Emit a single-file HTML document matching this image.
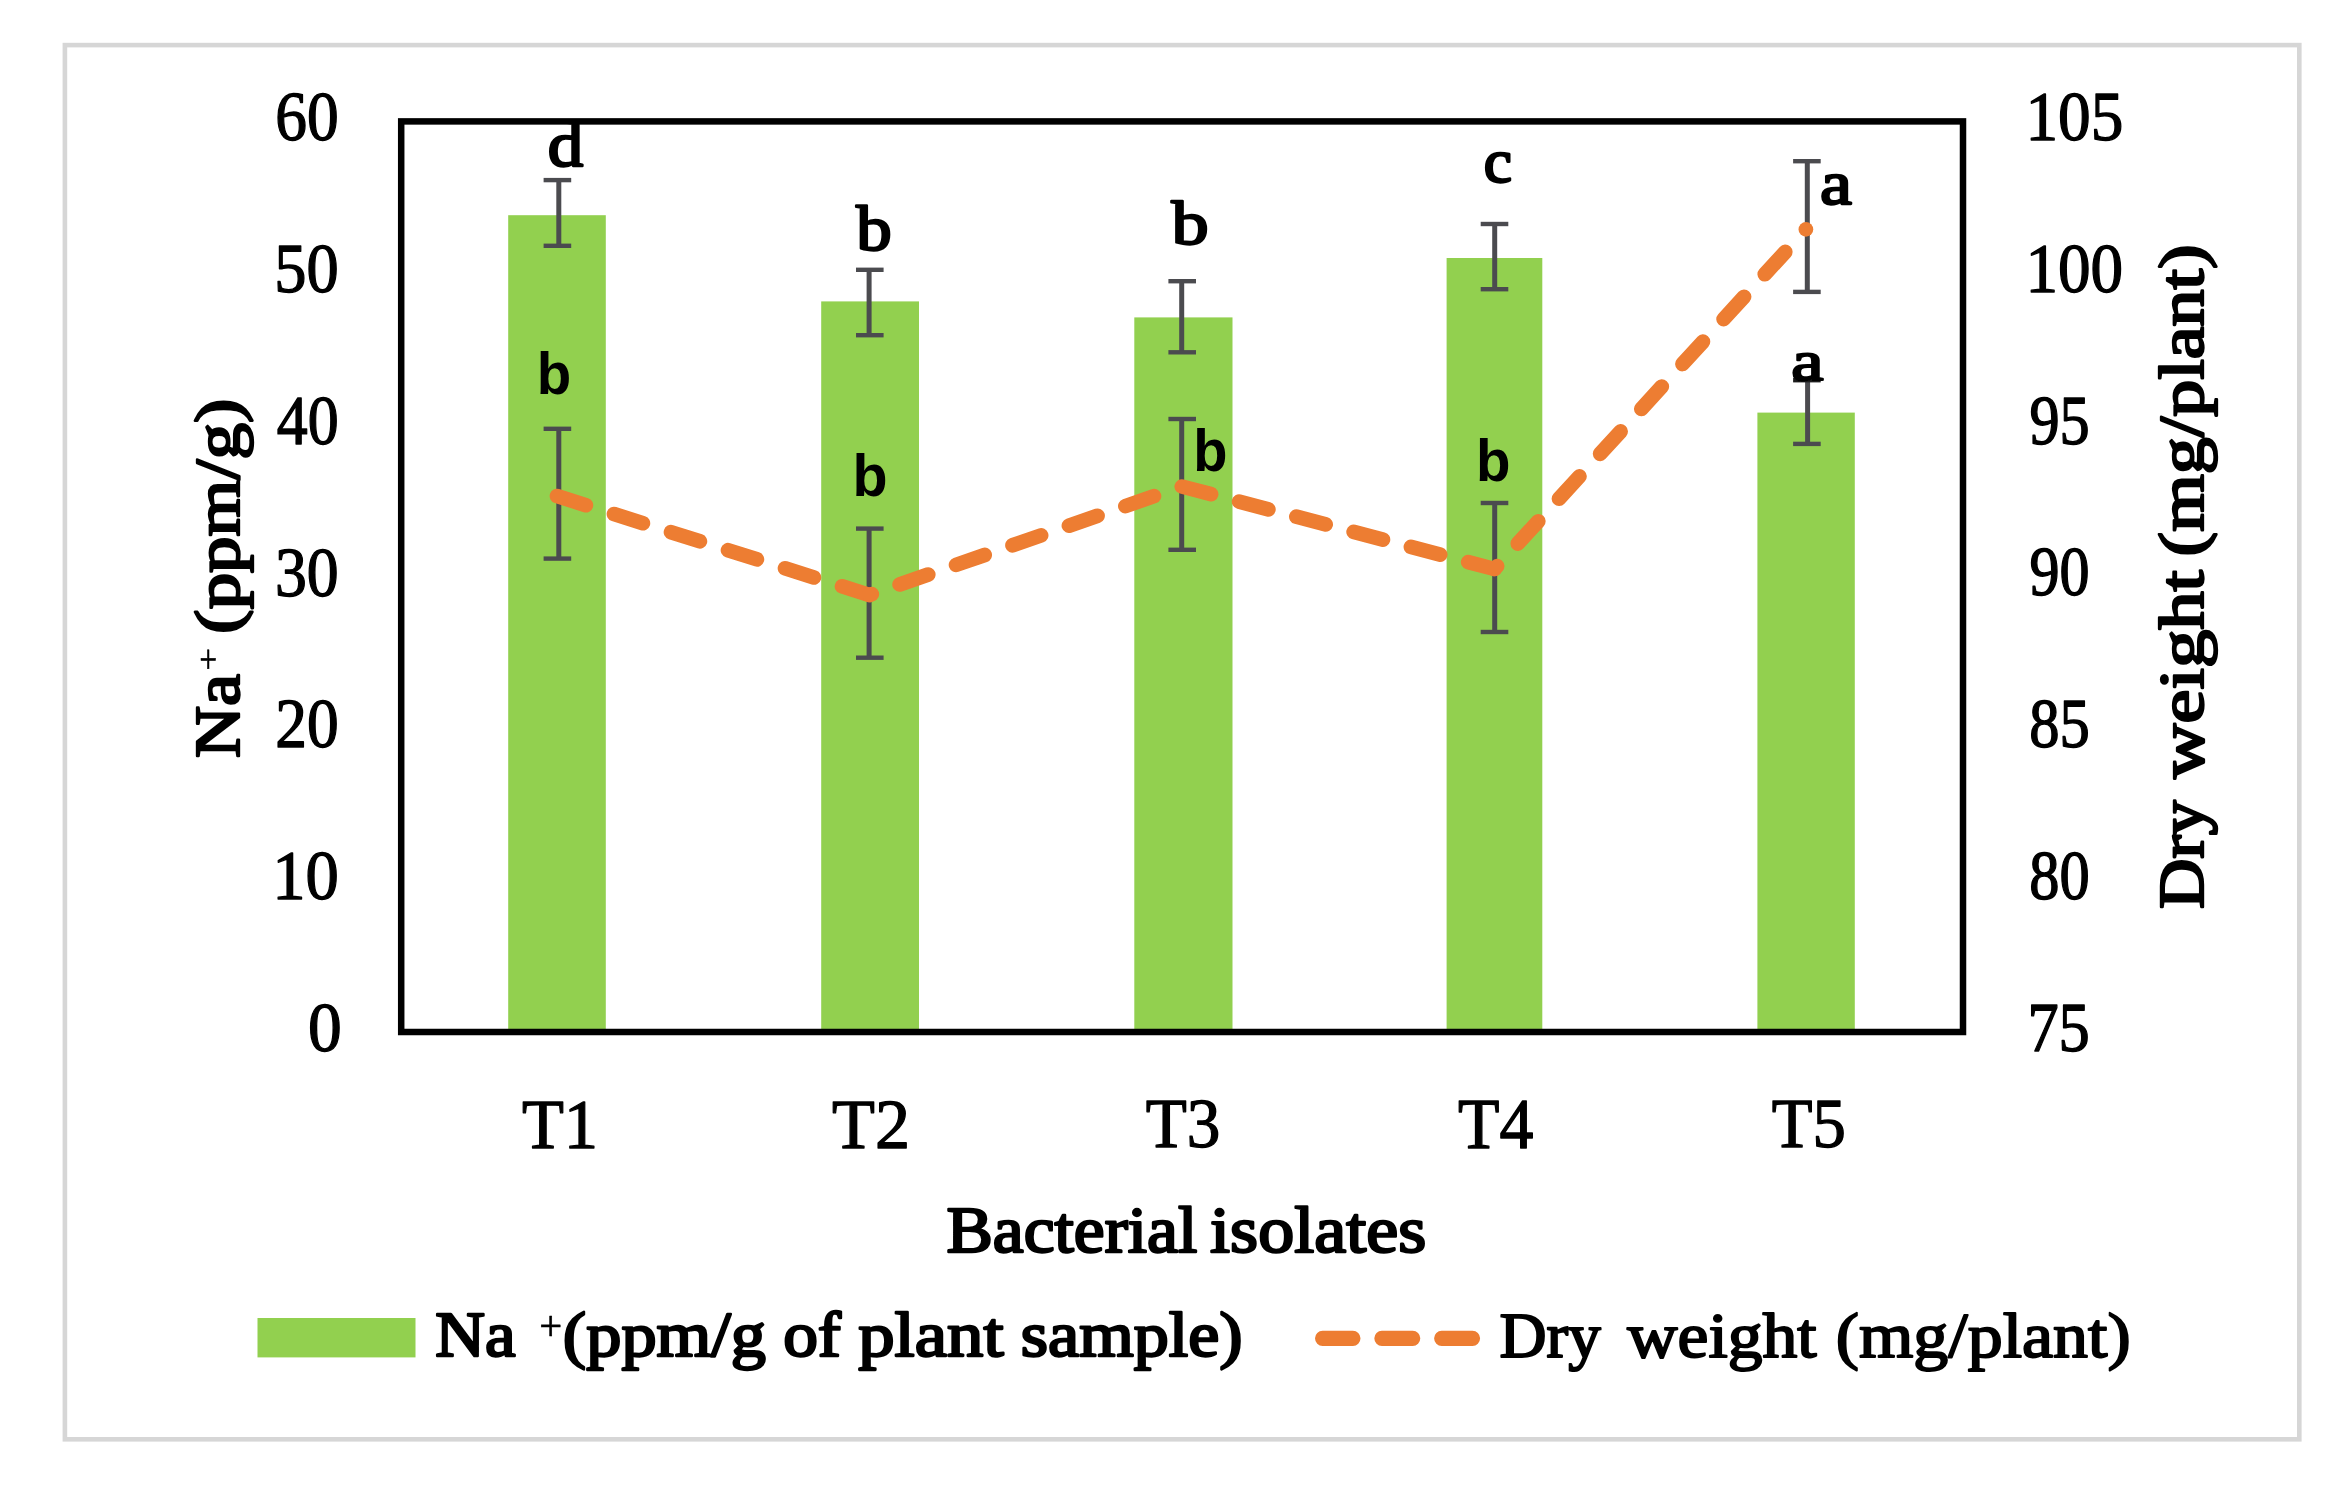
<!DOCTYPE html>
<html lang="en"><head><meta charset="utf-8"><title>Na+ and dry weight chart</title>
<style>html,body{margin:0;padding:0;background:#fff}svg{display:block}text{white-space:pre}</style>
</head><body>
<svg width="2348" height="1492" viewBox="0 0 2348 1492" role="img" aria-label="Bar and line chart of sodium content and dry weight for bacterial isolates T1 to T5">
<defs><filter id="soft" x="-2%" y="-2%" width="104%" height="104%"><feGaussianBlur stdDeviation="0.55"/></filter></defs>
<g filter="url(#soft)">
<rect x="0" y="0" width="2348" height="1492" fill="#fff"/>
<rect x="64.9" y="45.1" width="2234.4" height="1394.2" fill="none" stroke="#d6d6d6" stroke-width="4.6"/>
<rect x="508.2" y="215.2" width="97.6" height="816.8" fill="#92d050"/>
<rect x="821.2" y="301.4" width="97.8" height="730.6" fill="#92d050"/>
<rect x="1134.3" y="317.4" width="98.2" height="714.6" fill="#92d050"/>
<rect x="1446.6" y="258.0" width="95.7" height="774.0" fill="#92d050"/>
<rect x="1757.4" y="412.6" width="97.4" height="619.4" fill="#92d050"/>
<rect x="401.2" y="121.4" width="1561.8" height="910.6" fill="none" stroke="#000" stroke-width="6.5"/>
<path d="M558.8,180.1V245.8" stroke="#4c4b50" stroke-width="5.0" fill="none"/>
<path d="M543.6,180.1H571.2" stroke="#4c4b50" stroke-width="4.4" fill="none"/>
<path d="M543.6,245.8H571.2" stroke="#4c4b50" stroke-width="4.4" fill="none"/>
<path d="M869.1,269.8V335.2" stroke="#4c4b50" stroke-width="5.0" fill="none"/>
<path d="M856.0,269.8H883.6" stroke="#4c4b50" stroke-width="4.4" fill="none"/>
<path d="M856.0,335.2H883.6" stroke="#4c4b50" stroke-width="4.4" fill="none"/>
<path d="M1181.7,281.2V352.3" stroke="#4c4b50" stroke-width="5.0" fill="none"/>
<path d="M1168.4,281.2H1196.0" stroke="#4c4b50" stroke-width="4.4" fill="none"/>
<path d="M1168.4,352.3H1196.0" stroke="#4c4b50" stroke-width="4.4" fill="none"/>
<path d="M1494.7,224.0V289.2" stroke="#4c4b50" stroke-width="5.0" fill="none"/>
<path d="M1480.7,224.0H1508.3" stroke="#4c4b50" stroke-width="4.4" fill="none"/>
<path d="M1480.7,289.2H1508.3" stroke="#4c4b50" stroke-width="4.4" fill="none"/>
<path d="M1807.6,380.2V443.9" stroke="#4c4b50" stroke-width="5.0" fill="none"/>
<path d="M1793.1,380.2H1820.7" stroke="#1a1a1a" stroke-width="4.4" fill="none"/>
<path d="M1793.1,443.9H1820.7" stroke="#4c4b50" stroke-width="4.4" fill="none"/>
<path d="M558.8,428.8V558.6" stroke="#4c4b50" stroke-width="5.0" fill="none"/>
<path d="M543.6,428.8H571.2" stroke="#4c4b50" stroke-width="4.4" fill="none"/>
<path d="M543.6,558.6H571.2" stroke="#4c4b50" stroke-width="4.4" fill="none"/>
<path d="M869.1,528.6V657.7" stroke="#4c4b50" stroke-width="5.0" fill="none"/>
<path d="M856.0,528.6H883.6" stroke="#4c4b50" stroke-width="4.4" fill="none"/>
<path d="M856.0,657.7H883.6" stroke="#4c4b50" stroke-width="4.4" fill="none"/>
<path d="M1181.7,419.0V549.8" stroke="#4c4b50" stroke-width="5.0" fill="none"/>
<path d="M1168.4,419.0H1196.0" stroke="#4c4b50" stroke-width="4.4" fill="none"/>
<path d="M1168.4,549.8H1196.0" stroke="#4c4b50" stroke-width="4.4" fill="none"/>
<path d="M1494.7,503.0V632.0" stroke="#4c4b50" stroke-width="5.0" fill="none"/>
<path d="M1480.7,503.0H1508.3" stroke="#4c4b50" stroke-width="4.4" fill="none"/>
<path d="M1480.7,632.0H1508.3" stroke="#4c4b50" stroke-width="4.4" fill="none"/>
<path d="M1807.3,161.2V291.9" stroke="#4c4b50" stroke-width="5.0" fill="none"/>
<path d="M1793.1,161.2H1820.7" stroke="#4c4b50" stroke-width="4.4" fill="none"/>
<path d="M1793.1,291.9H1820.7" stroke="#4c4b50" stroke-width="4.4" fill="none"/>
<path d="M557.0,496.0L869.3,595.0" fill="none" stroke="#ed7d31" stroke-width="14.7" stroke-linecap="round" stroke-dasharray="30.3 29.50" stroke-dashoffset="-0.00"/>
<path d="M869.3,595.0L1181.8,486.5" fill="none" stroke="#ed7d31" stroke-width="14.7" stroke-linecap="round" stroke-dasharray="30.3 29.44" stroke-dashoffset="-32.10"/>
<path d="M1181.8,486.5L1494.5,569.0" fill="none" stroke="#ed7d31" stroke-width="14.7" stroke-linecap="round" stroke-dasharray="30.3 28.94" stroke-dashoffset="-0.00"/>
<path d="M1494.5,569.0L1805.9,229.4" fill="none" stroke="#ed7d31" stroke-width="14.7" stroke-linecap="round" stroke-dasharray="30.3 30.60" stroke-dashoffset="-34.50"/>
<circle cx="1805.9" cy="229.4" r="7.35" fill="#ed7d31"/>
<text transform="translate(275.36,140.35) scale(0.6337,0.6978)" font-family='"Liberation Serif", serif' font-weight="normal" font-size="100.00" fill="#000" stroke="#000" stroke-width="1.95" stroke-linejoin="round">60</text>
<text transform="translate(274.35,292.13) scale(0.6442,0.6978)" font-family='"Liberation Serif", serif' font-weight="normal" font-size="100.00" fill="#000" stroke="#000" stroke-width="1.94" stroke-linejoin="round">50</text>
<text transform="translate(276.81,443.91) scale(0.6186,0.6978)" font-family='"Liberation Serif", serif' font-weight="normal" font-size="100.00" fill="#000" stroke="#000" stroke-width="1.98" stroke-linejoin="round">40</text>
<text transform="translate(275.02,595.69) scale(0.6372,0.6978)" font-family='"Liberation Serif", serif' font-weight="normal" font-size="100.00" fill="#000" stroke="#000" stroke-width="1.95" stroke-linejoin="round">30</text>
<text transform="translate(275.36,747.47) scale(0.6337,0.6978)" font-family='"Liberation Serif", serif' font-weight="normal" font-size="100.00" fill="#000" stroke="#000" stroke-width="1.95" stroke-linejoin="round">20</text>
<text transform="translate(272.22,899.25) scale(0.6663,0.6978)" font-family='"Liberation Serif", serif' font-weight="normal" font-size="100.00" fill="#000" stroke="#000" stroke-width="1.91" stroke-linejoin="round">10</text>
<text transform="translate(308.12,1051.03) scale(0.6753,0.6978)" font-family='"Liberation Serif", serif' font-weight="normal" font-size="100.00" fill="#000" stroke="#000" stroke-width="1.89" stroke-linejoin="round">0</text>
<text transform="translate(2025.44,140.06) scale(0.6528,0.6919)" font-family='"Liberation Serif", serif' font-weight="normal" font-size="100.00" fill="#000" stroke="#000" stroke-width="1.93" stroke-linejoin="round">105</text>
<text transform="translate(2025.45,291.84) scale(0.6516,0.6919)" font-family='"Liberation Serif", serif' font-weight="normal" font-size="100.00" fill="#000" stroke="#000" stroke-width="1.94" stroke-linejoin="round">100</text>
<text transform="translate(2029.49,443.62) scale(0.6027,0.6944)" font-family='"Liberation Serif", serif' font-weight="normal" font-size="100.00" fill="#000" stroke="#000" stroke-width="2.01" stroke-linejoin="round">95</text>
<text transform="translate(2029.50,595.40) scale(0.6011,0.6919)" font-family='"Liberation Serif", serif' font-weight="normal" font-size="100.00" fill="#000" stroke="#000" stroke-width="2.02" stroke-linejoin="round">90</text>
<text transform="translate(2029.18,747.18) scale(0.6060,0.6919)" font-family='"Liberation Serif", serif' font-weight="normal" font-size="100.00" fill="#000" stroke="#000" stroke-width="2.01" stroke-linejoin="round">85</text>
<text transform="translate(2029.18,898.96) scale(0.6043,0.6919)" font-family='"Liberation Serif", serif' font-weight="normal" font-size="100.00" fill="#000" stroke="#000" stroke-width="2.01" stroke-linejoin="round">80</text>
<text transform="translate(2027.39,1050.73) scale(0.6246,0.7023)" font-family='"Liberation Serif", serif' font-weight="normal" font-size="100.00" fill="#000" stroke="#000" stroke-width="1.96" stroke-linejoin="round">75</text>
<text transform="translate(521.95,1147.55) scale(0.6857,0.7076)" font-family='"Liberation Serif", serif' font-weight="normal" font-size="100.00" fill="#000" stroke="#000" stroke-width="1.87" stroke-linejoin="round">T1</text>
<text transform="translate(832.02,1147.55) scale(0.7017,0.7049)" font-family='"Liberation Serif", serif' font-weight="normal" font-size="100.00" fill="#000" stroke="#000" stroke-width="1.85" stroke-linejoin="round">T2</text>
<text transform="translate(1145.67,1146.86) scale(0.6717,0.6944)" font-family='"Liberation Serif", serif' font-weight="normal" font-size="100.00" fill="#000" stroke="#000" stroke-width="1.90" stroke-linejoin="round">T3</text>
<text transform="translate(1458.06,1147.55) scale(0.6784,0.7103)" font-family='"Liberation Serif", serif' font-weight="normal" font-size="100.00" fill="#000" stroke="#000" stroke-width="1.87" stroke-linejoin="round">T4</text>
<text transform="translate(1771.68,1146.85) scale(0.6670,0.7023)" font-family='"Liberation Serif", serif' font-weight="normal" font-size="100.00" fill="#000" stroke="#000" stroke-width="1.90" stroke-linejoin="round">T5</text>
<text transform="translate(946.44,1251.90) scale(0.6952,0.6525)" font-family='"Liberation Serif", serif' font-weight="normal" font-size="100.00" fill="#000" stroke="#000" stroke-width="3.71" stroke-linejoin="round">Bacterial</text>
<text transform="translate(1210.11,1251.90) scale(0.7205,0.6525)" font-family='"Liberation Serif", serif' font-weight="normal" font-size="100.00" fill="#000" stroke="#000" stroke-width="3.65" stroke-linejoin="round">isolates</text>
<text transform="translate(239.15,757.93) rotate(-90) scale(1.1359,1)" font-family='"Liberation Serif", serif' font-weight="normal" font-size="63.38" fill="#000" stroke="#000" stroke-width="2.35" stroke-linejoin="round">Na</text>
<text transform="translate(218.88,670.83) rotate(-90) scale(0.4065,0.3183)" font-family='"Liberation Serif", serif' font-weight="normal" font-size="100.00" fill="#000" stroke="#000" stroke-width="1.67" stroke-linejoin="round">+</text>
<text transform="translate(239.15,633.65) rotate(-90) scale(1.1509,1)" font-family='"Liberation Serif", serif' font-weight="normal" font-size="63.38" fill="#000" stroke="#000" stroke-width="2.33" stroke-linejoin="round">(ppm/g)</text>
<text transform="translate(2202.75,909.07) rotate(-90) scale(1.1039,1)" font-family='"Liberation Serif", serif' font-weight="normal" font-size="63.38" fill="#000" stroke="#000" stroke-width="2.38" stroke-linejoin="round">Dry</text>
<text transform="translate(2202.75,778.75) rotate(-90) scale(1.2093,1)" font-family='"Liberation Serif", serif' font-weight="normal" font-size="63.38" fill="#000" stroke="#000" stroke-width="2.27" stroke-linejoin="round">weight</text>
<text transform="translate(2202.75,556.39) rotate(-90) scale(1.1664,1)" font-family='"Liberation Serif", serif' font-weight="normal" font-size="63.38" fill="#000" stroke="#000" stroke-width="2.31" stroke-linejoin="round">(mg/plant)</text>
<text transform="translate(547.87,166.42) scale(0.7094,0.6298)" font-family='"Liberation Serif", serif' font-weight="normal" font-size="100.00" fill="#000" stroke="#000" stroke-width="3.74" stroke-linejoin="round">d</text>
<text transform="translate(856.15,250.32) scale(0.7092,0.6255)" font-family='"Liberation Serif", serif' font-weight="normal" font-size="100.00" fill="#000" stroke="#000" stroke-width="3.75" stroke-linejoin="round">b</text>
<text transform="translate(1171.45,244.13) scale(0.7438,0.6227)" font-family='"Liberation Serif", serif' font-weight="normal" font-size="100.00" fill="#000" stroke="#000" stroke-width="3.67" stroke-linejoin="round">b</text>
<text transform="translate(1483.87,181.94) scale(0.6347,0.6104)" font-family='"Liberation Serif", serif' font-weight="normal" font-size="100.00" fill="#000" stroke="#000" stroke-width="4.02" stroke-linejoin="round">c</text>
<text transform="translate(1791.31,379.97) scale(0.7266,0.5771)" font-family='"Liberation Serif", serif' font-weight="normal" font-size="100.00" fill="#000" stroke="#000" stroke-width="3.86" stroke-linejoin="round">a</text>
<text transform="translate(1820.03,204.23) scale(0.7190,0.6187)" font-family='"Liberation Serif", serif' font-weight="normal" font-size="100.00" fill="#000" stroke="#000" stroke-width="3.75" stroke-linejoin="round">a</text>
<text transform="translate(536.83,393.71) scale(0.5644,0.5946)" font-family='"Liberation Sans", sans-serif' font-weight="bold" font-size="100.00" fill="#000">b</text>
<text transform="translate(852.57,496.00) scale(0.5743,0.5959)" font-family='"Liberation Sans", sans-serif' font-weight="bold" font-size="100.00" fill="#000">b</text>
<text transform="translate(1193.36,471.11) scale(0.5604,0.5946)" font-family='"Liberation Sans", sans-serif' font-weight="bold" font-size="100.00" fill="#000">b</text>
<text transform="translate(1476.03,480.60) scale(0.5644,0.5973)" font-family='"Liberation Sans", sans-serif' font-weight="bold" font-size="100.00" fill="#000">b</text>
<rect x="257.5" y="1318" width="158" height="39.4" fill="#92d050"/>
<text transform="translate(435.36,1356.25) scale(1.0869,1)" font-family='"Liberation Serif", serif' font-weight="normal" font-size="63.38" fill="#000" stroke="#000" stroke-width="2.40" stroke-linejoin="round">Na</text>
<text transform="translate(539.27,1339.92) scale(0.4065,0.4323)" font-family='"Liberation Serif", serif' font-weight="normal" font-size="100.00" fill="#000" stroke="#000" stroke-width="1.43" stroke-linejoin="round">+</text>
<text transform="translate(562.86,1356.25) scale(1.1093,1)" font-family='"Liberation Serif", serif' font-weight="normal" font-size="63.38" fill="#000" stroke="#000" stroke-width="2.37" stroke-linejoin="round">(ppm/g</text>
<text transform="translate(783.15,1356.25) scale(1.0955,1)" font-family='"Liberation Serif", serif' font-weight="normal" font-size="63.38" fill="#000" stroke="#000" stroke-width="2.39" stroke-linejoin="round">of</text>
<text transform="translate(858.16,1356.25) scale(1.1482,1)" font-family='"Liberation Serif", serif' font-weight="normal" font-size="63.38" fill="#000" stroke="#000" stroke-width="2.33" stroke-linejoin="round">plant</text>
<text transform="translate(1020.75,1356.25) scale(1.1061,1)" font-family='"Liberation Serif", serif' font-weight="normal" font-size="63.38" fill="#000" stroke="#000" stroke-width="2.38" stroke-linejoin="round">sample)</text>
<path d="M1322.6,1338.3H1352.9M1381.9,1338.3H1412.7M1441.7,1338.3H1472.5" stroke="#ed7d31" stroke-width="15.2" stroke-linecap="round" fill="none"/>
<text transform="translate(1499.51,1356.80) scale(1.0215,1)" font-family='"Liberation Serif", serif' font-weight="normal" font-size="63.75" fill="#000" stroke="#000" stroke-width="1.98" stroke-linejoin="round">Dry</text>
<text transform="translate(1627.20,1356.80) scale(1.0922,1)" font-family='"Liberation Serif", serif' font-weight="normal" font-size="63.75" fill="#000" stroke="#000" stroke-width="1.91" stroke-linejoin="round">weight</text>
<text transform="translate(1835.73,1356.80) scale(1.0964,1)" font-family='"Liberation Serif", serif' font-weight="normal" font-size="63.75" fill="#000" stroke="#000" stroke-width="1.91" stroke-linejoin="round">(mg/plant)</text>
</g>
</svg>
</body></html>
